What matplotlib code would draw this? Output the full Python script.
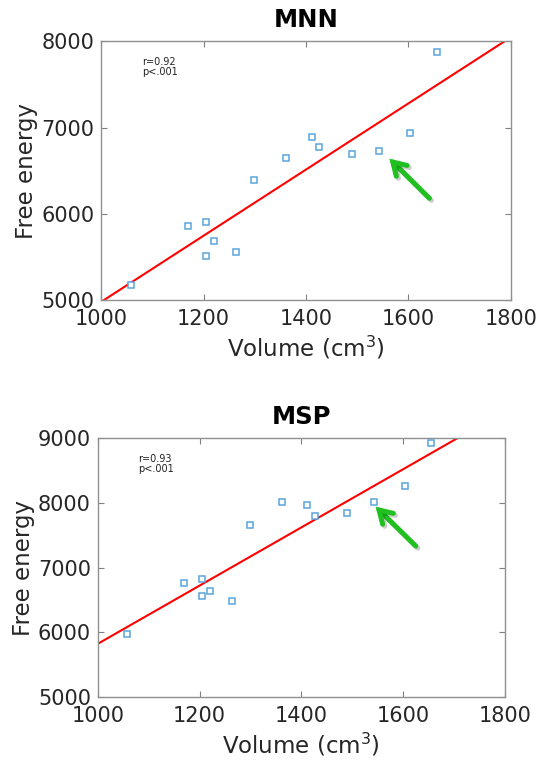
import matplotlib.pyplot as plt
import matplotlib.patheffects as pe

# shared x values (brain volume, cm^3)
volume = [1058, 1170, 1205, 1205, 1220, 1264, 1299, 1361, 1411, 1426, 1490, 1542, 1603, 1655]

mnn_energy = [5174, 5856, 5902, 5509, 5683, 5563, 6388, 6647, 6886, 6778, 6689, 6731, 6936, 7877]
msp_energy = [5976, 6770, 6832, 6569, 6641, 6481, 7653, 8009, 7968, 7797, 7839, 8009, 8257, 8923]

# regression line end points
mnn_line_x = [1000, 1800]
mnn_line_y = [4981, 8045]
msp_line_x = [1000, 1800]
msp_line_y = [5826, 9418]

# arrow tail / head (data coords)
mnn_arrow = [(1641, 6180), (1563, 6639)]
msp_arrow = [(1625, 7333), (1546, 7942)]

mnn_ticks_y = [5000, 6000, 7000, 8000]
msp_ticks_y = [5000, 6000, 7000, 8000, 9000]
x_ticks = [1000, 1200, 1400, 1600, 1800]

panels = [
    ("MNN", mnn_energy, mnn_line_x, mnn_line_y, mnn_arrow, mnn_ticks_y, "r=0.92\np<.001",
     [0.186, 0.606, 0.753, 0.340]),
    ("MSP", msp_energy, msp_line_x, msp_line_y, msp_arrow, msp_ticks_y, "r=0.93\np<.001",
     [0.180, 0.085, 0.748, 0.340]),
]

plt.rcParams["font.family"] = "DejaVu Sans"
fig = plt.figure(figsize=(5.44, 7.62), dpi=100)

for title, energy, lx, ly, arrow, yticks, stats, rect in panels:
    ax = fig.add_axes(rect)
    ax.plot(lx, ly, color="#ff0000", linewidth=1.5, zorder=2)
    ax.plot(volume, energy, linestyle="none", marker="s", markersize=4.5,
            markerfacecolor="white", markeredgecolor="#5aa5dd", markeredgewidth=1.1, zorder=3)

    (tx, ty), (hx, hy) = arrow
    ax.annotate("", xy=(hx, hy), xytext=(tx, ty),
                arrowprops=dict(arrowstyle="->,head_length=0.9,head_width=0.55",
                                color="#1fc01f", linewidth=3.6, shrinkA=0, shrinkB=0,
                                capstyle="round", joinstyle="miter",
                                path_effects=[pe.SimpleLineShadow(offset=(1.5, -1.5), alpha=0.2),
                                              pe.Normal()]),
                zorder=4)

    ax.text(0.10, 0.94, stats, transform=ax.transAxes, fontsize=7,
            va="top", ha="left", color="#222222", linespacing=1.1)

    ax.set_xlim(x_ticks[0], x_ticks[-1])
    ax.set_ylim(yticks[0], yticks[-1])
    ax.set_xticks(x_ticks)
    ax.set_yticks(yticks)
    ax.tick_params(direction="in", length=4, width=0.8, color="#808080",
                   labelsize=15, labelcolor="#262626", top=True, right=True)
    ax.tick_params(axis="x", pad=6)
    ax.tick_params(axis="y", pad=5)
    for spine in ax.spines.values():
        spine.set_color("#909090")
        spine.set_linewidth(1.0)

    ax.set_title(title, fontsize=17.5, fontweight="bold", pad=10)
    ax.set_xlabel("Volume (cm$^3$)", fontsize=16.5, color="#262626", labelpad=4)
    ax.set_ylabel("Free energy", fontsize=16.5, color="#262626", labelpad=2)

fig.savefig("out.png", dpi=100)
